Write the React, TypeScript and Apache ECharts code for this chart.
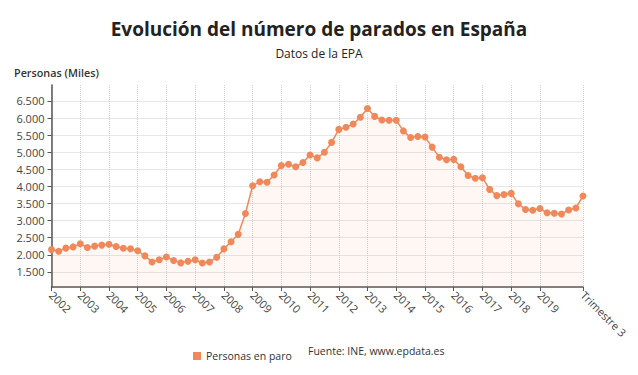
import React, { useEffect, useRef } from "react";
import * as echarts from "echarts";

const years = [2002, 2003, 2004, 2005, 2006, 2007, 2008, 2009, 2010, 2011, 2012, 2013, 2014, 2015, 2016, 2017, 2018, 2019, 2020];
const quarterNames = ["", "Trimestre 2", "Trimestre 3", "Trimestre 4"];

// Personas en paro (miles), EPA, 2002 T1 – 2020 T3
const parados = [
  2153, 2103, 2196, 2232,
  2325, 2215, 2255, 2285,
  2310, 2245, 2195, 2180,
  2120, 1970, 1790, 1855,
  1935, 1837, 1765, 1810,
  1856, 1760, 1791, 1927,
  2174, 2381, 2599, 3207,
  4018, 4138, 4123, 4336,
  4613, 4646, 4575, 4697,
  4921, 4834, 4998, 5287,
  5667, 5731, 5824, 6021,
  6278, 6047, 5943, 5936,
  5933, 5623, 5428, 5458,
  5444, 5149, 4851, 4780,
  4791, 4575, 4321, 4238,
  4255, 3914, 3732, 3766,
  3796, 3491, 3326, 3304,
  3354, 3231, 3214, 3192,
  3313, 3368, 3722,
];

const seriesName = "Personas en paro";
const titleText = "Evolución del número de parados en España";
const subtitleText = "Datos de la EPA";
const yAxisTitle = "Personas (Miles)";
const sourceText = "Fuente: INE, www.epdata.es";

const categories: string[] = [];
years.forEach((y) => {
  quarterNames.forEach((q, qi) => {
    categories.push(qi === 0 ? String(y) : q);
  });
});
const cats = categories.slice(0, parados.length);
const lastIdx = cats.length - 1;
const showIdx = (i: number) => (i % 4 === 0 && i < lastIdx - 3) || i === lastIdx;

const fmt = (v: number) => {
  const s = String(Math.round(v));
  return s.replace(/\B(?=(\d{3})+(?!\d))/g, ".");
};

const FONT = "'Open Sans', sans-serif";

export default function App() {
  const ref = useRef<HTMLDivElement>(null);
  useEffect(() => {
    if (!ref.current) return;
    const chart = echarts.init(ref.current, undefined, { renderer: "svg" });
    chart.setOption({
      animation: false,
      backgroundColor: "#ffffff",
      textStyle: { fontFamily: FONT },
      title: {
        text: titleText,
        subtext: subtitleText,
        left: "center",
        top: 14,
        itemGap: 9,
        textStyle: { fontSize: 19, fontWeight: "bold", color: "#222", fontFamily: FONT },
        subtextStyle: { fontSize: 12, color: "#222", fontFamily: FONT },
      },
      legend: {
        data: [seriesName],
        icon: "rect",
        itemWidth: 8,
        itemHeight: 8,
        left: 188,
        top: 345.5,
        textStyle: { fontSize: 10.5, color: "#333", fontFamily: FONT },
      },
      graphic: [
        {
          type: "text",
          left: 14,
          top: 66.5,
          style: { text: yAxisTitle, fontSize: 10.8, fontWeight: 600, fill: "#333", fontFamily: FONT },
        },
        {
          type: "text",
          left: 308,
          top: 345.5,
          style: { text: sourceText, fontSize: 10.5, fill: "#333", fontFamily: FONT },
        },
      ],
      grid: { left: 51.5, right: 55, top: 85, bottom: 88, containLabel: false },
      xAxis: {
        type: "category",
        data: cats,
        boundaryGap: false,
        axisLine: { show: true, lineStyle: { color: "#555", width: 1.5 } },
        axisTick: { show: true, interval: (i: number) => showIdx(i), length: 4, lineStyle: { color: "#555" } },
        axisLabel: {
          interval: (i: number) => showIdx(i),
          rotate: -45,
          fontSize: 11,
          color: "#444",
          margin: 6,
          fontFamily: FONT,
        },
        splitLine: {
          show: true,
          interval: (i: number) => showIdx(i),
          lineStyle: { color: "#cfcfcf", type: "dotted", width: 1 },
        },
      },
      yAxis: {
        type: "value",
        min: 1060,
        max: 6965,
        splitNumber: 12,
        minInterval: 500,
        maxInterval: 500,
        axisLine: { show: true, lineStyle: { color: "#555", width: 1.5 } },
        axisTick: { show: true, length: 4, lineStyle: { color: "#555" } },
        axisLabel: {
          showMinLabel: false,
          showMaxLabel: false,
          formatter: (v: number) => fmt(v),
          fontSize: 11,
          color: "#444",
          margin: 7,
          fontFamily: FONT,
        },
        splitLine: {
          show: true,
          showMinLine: false,
          showMaxLine: false,
          lineStyle: { color: "#cfcfcf", type: "dotted", width: 1 },
        },
      },
      series: [
        {
          name: seriesName,
          type: "line",
          data: parados,
          symbol: "circle",
          symbolSize: 7,
          showSymbol: true,
          showAllSymbol: true,
          itemStyle: { color: "#f0885a" },
          lineStyle: { color: "#f0885a", width: 1.5 },
          areaStyle: { color: "rgba(240,136,90,0.1)" },
        },
      ],
    });
    return () => chart.dispose();
  }, []);
  return <div ref={ref} style={{ position: "fixed", left: 0, top: 0, width: 638, height: 375 }} />;
}
